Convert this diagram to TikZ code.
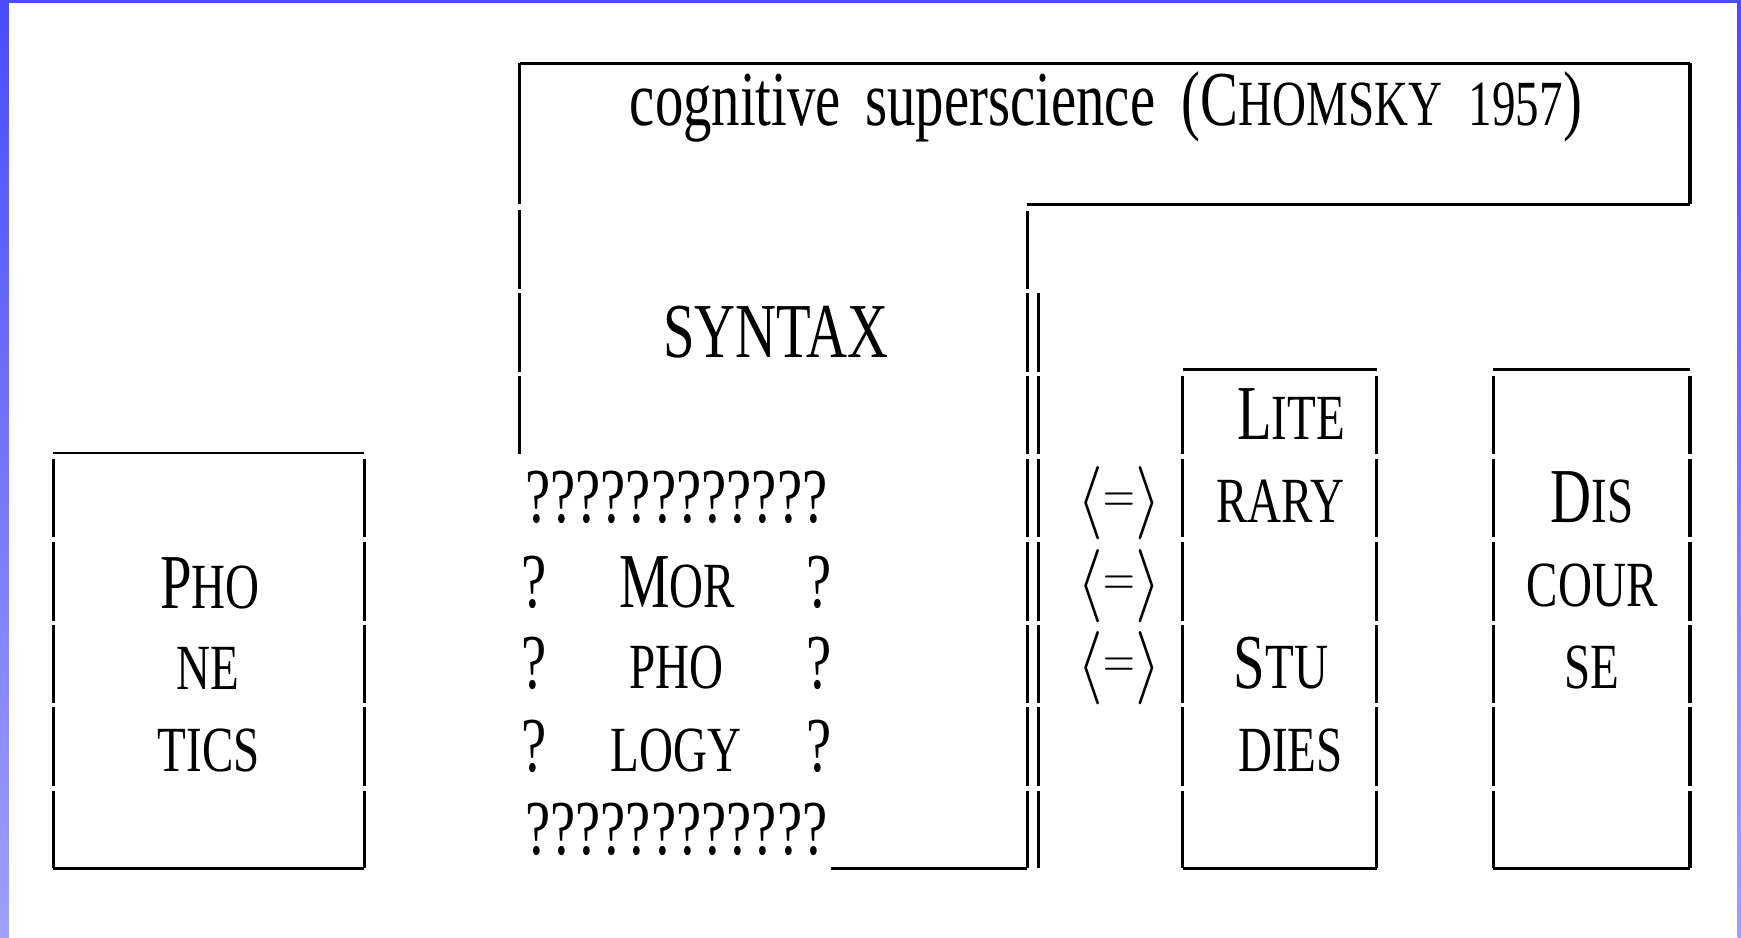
\RequirePackage{fix-cm}
\documentclass[tikz,border=0pt]{standalone}
\usepackage{graphicx}
\usepackage{fontspec}
\newfontfamily\tf[FakeStretch=0.73]{Liberation Serif}
\newcommand{\Bg}[1]{{\fontsize{35}{40}\selectfont #1}}
\newcommand{\Sm}[1]{{\fontsize{29}{33}\selectfont #1}}
\newcommand{\Ang}[1]{\vcenter{\hbox{\scalebox{0.9}[1]{\fontsize{33}{36}\selectfont$#1$}}}}
\newcommand{\Eqv}{{\fontsize{26}{28}\selectfont$\Ang{\langle}\vcenter{\hbox{\scalebox{0.76}[1]{$=$}}}\Ang{\rangle}$}}
\definecolor{bluetop}{HTML}{4B4BFF}
\definecolor{bluebot}{HTML}{A0A0FF}
\newcommand{\vsegs}[2]{\foreach \a/\b in {#2} {\draw[vl] (#1,\a) -- (#1,\b);}}
\begin{document}
\begin{tikzpicture}[x=0.5pt,y=-0.5pt,
  txt/.style={inner sep=0pt, anchor=base, font=\tf},
  hl/.style={line width=1.15pt},
  vl/.style={line width=1.4pt}]
\useasboundingbox (0,0) rectangle (1568,844);
\fill[white] (0,0) rectangle (1568,844);
% slide border
\shade[top color=bluetop,bottom color=bluebot] (0,0) rectangle (8,844);
\shade[top color=bluetop,bottom color=bluebot] (1565,0) rectangle (1568,844);
\fill[bluetop] (0,0) rectangle (1568,3);

% cognitive superscience frame
\draw[hl] (468,57) -- (1522,57);
\draw[hl] (925,184) -- (1522,184);
\draw[hl] (748,782) -- (925,782);
\vsegs{468}{57/184, 189/260, 264/335, 339/409}
\vsegs{1522}{57/184}
\vsegs{925}{190/260, 264/335, 339/409, 413/484, 488/559, 563/633, 637/708, 712/782}
\vsegs{935}{264/335, 339/409, 413/484, 488/559, 563/633, 637/708, 712/782}

% phonetics box
\draw[hl] (48,408) -- (328,408);
\draw[hl] (48,782) -- (328,782);
\vsegs{48}{413/484, 488/559, 563/633, 637/708, 712/782}
\vsegs{328}{413/484, 488/559, 563/633, 637/708, 712/782}

% literary studies box
\draw[hl] (1065,333) -- (1240,333);
\draw[hl] (1065,782) -- (1240,782);
\vsegs{1065}{339/409, 413/484, 488/559, 563/633, 637/708, 712/782}
\vsegs{1240}{339/409, 413/484, 488/559, 563/633, 637/708, 712/782}

% discourse box
\draw[hl] (1345,333) -- (1522,333);
\draw[hl] (1345,782) -- (1522,782);
\vsegs{1345}{339/409, 413/484, 488/559, 563/633, 637/708, 712/782}
\vsegs{1522}{339/409, 413/484, 488/559, 563/633, 637/708, 712/782}

% texts
\node[txt] (cog) at (996,113) {\Bg{cognitive\hspace{11pt}superscience\hspace{12pt}(C}\Sm{HOMSKY\hspace{12pt}1957}\Bg{)}};
\node[txt] (syn) at (699,322) {\Bg{SYNTAX}};

\node[txt] (ph1) at (189,548) {\Bg{P}\Sm{HO}};
\node[txt] (ph2) at (187,621) {\Sm{NE}};
\node[txt] (ph3) at (188,695) {\Sm{TICS}};

\node[txt] (qt) at (609,471) {\Bg{????????????}};
\node[txt] (qb) at (609,770) {\Bg{????????????}};
\node[txt] (ql1) at (481,547) {\Bg{?}};
\node[txt] (qr1) at (737.5,547) {\Bg{?}};
\node[txt] (ql2) at (481,620) {\Bg{?}};
\node[txt] (qr2) at (737.5,620) {\Bg{?}};
\node[txt] (ql3) at (481,695) {\Bg{?}};
\node[txt] (qr3) at (737.5,695) {\Bg{?}};
\node[txt] (mo1) at (610,547) {\Bg{M}\Sm{OR}};
\node[txt] (mo2) at (609,620) {\Sm{PHO}};
\node[txt] (mo3) at (609,695) {\Sm{LOGY}};

\node[inner sep=0pt] (eq1) at (1008,453) {\Eqv};
\node[inner sep=0pt] (eq2) at (1008,528) {\Eqv};
\node[inner sep=0pt] (eq3) at (1008,602) {\Eqv};

\node[txt] (li1) at (1162.7,396) {\Bg{L}\Sm{ITE}};
\node[txt] (li2) at (1153,471) {\Sm{RARY}};
\node[txt] (li3) at (1153.6,620) {\Bg{S}\Sm{TU}};
\node[txt] (li4) at (1162.3,695) {\Sm{DIES}};

\node[txt] (di1) at (1434,471) {\Bg{D}\Sm{IS}};
\node[txt] (di2) at (1434,546) {\Sm{COUR}};
\node[txt] (di3) at (1434,620) {\Sm{SE}};
\end{tikzpicture}
\end{document}
